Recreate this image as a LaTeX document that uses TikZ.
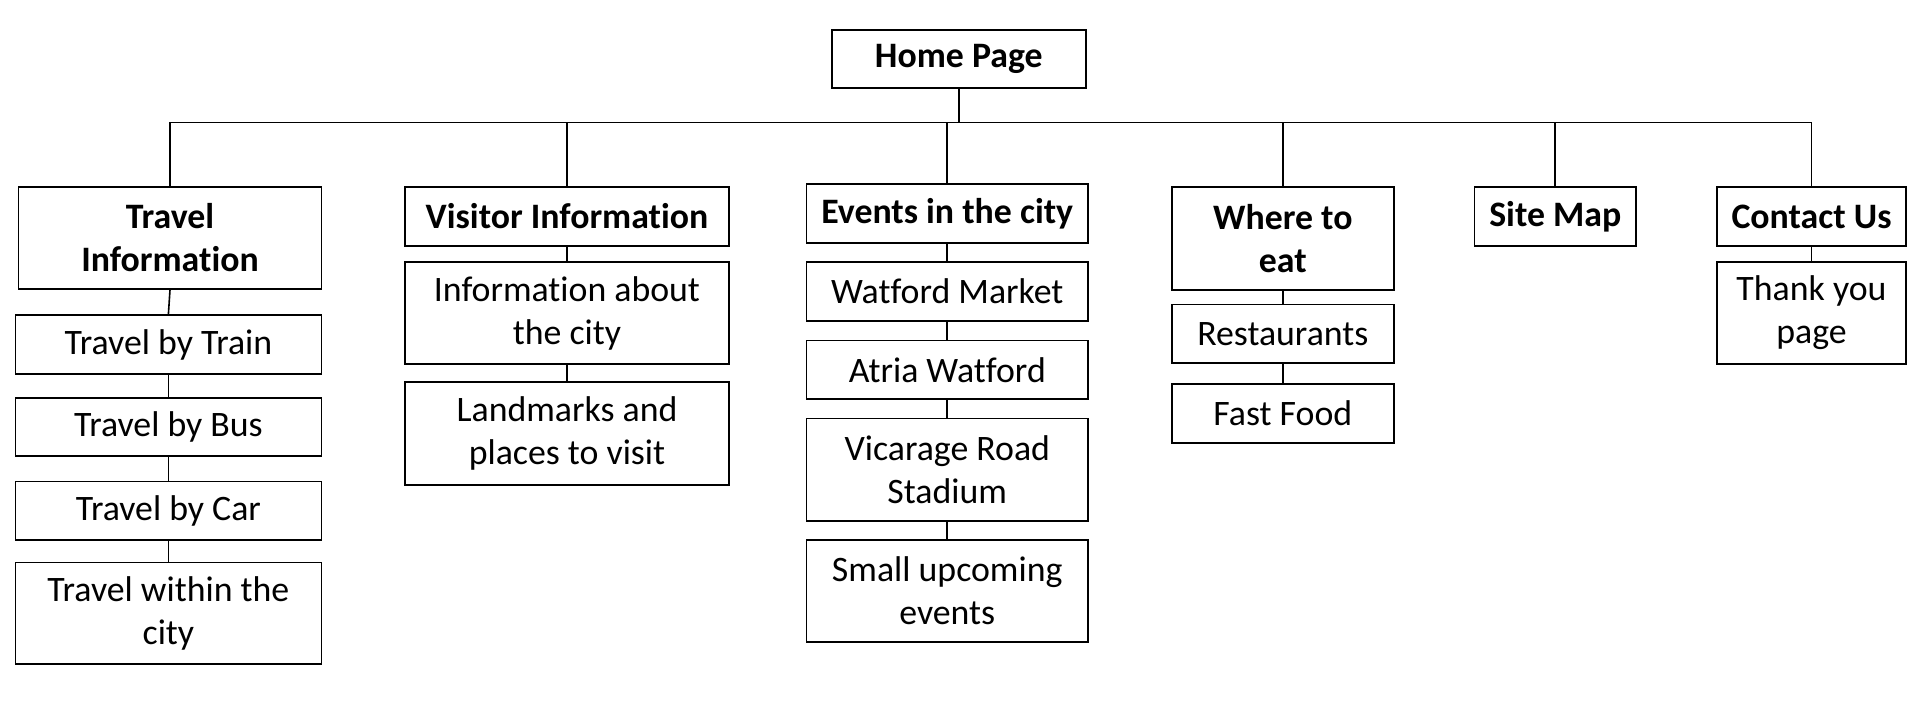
\documentclass[tikz,border=0pt]{standalone}
\usepackage{fontspec}
\setmainfont[Ligatures=NoCommon]{Carlito}
\begin{document}
\begin{tikzpicture}[x=1pt,y=-1pt,
  box/.style={draw=black,line width=1.8pt,fill=white,rectangle,align=center,inner sep=2pt,
    font=\fontsize{35.8}{43}\selectfont,text=black},
  head/.style={box,font=\fontsize{35.8}{43}\selectfont\bfseries},
  conn/.style={draw=black,line width=1.6pt}]
\fill[white] (0,0) rectangle (1917,705);
\useasboundingbox (0,0) rectangle (1917,705);
\coordinate (bus) at (0,122.5);
% top
\node[head,minimum width=254.4pt,minimum height=58.6pt] (home) at (958.8,59) {Home Page};
% column 1
\node[head,minimum width=303pt,minimum height=102pt] (ti) at (170,238) {Travel\\Information};
\node[box,minimum width=306pt,minimum height=59pt] (train) at (168.4,344.5) {Travel by Train};
\node[box,minimum width=306pt,minimum height=58pt] (busn) at (168.4,427) {Travel by Bus};
\node[box,minimum width=306pt,minimum height=58.5pt] (car) at (168.4,510.75) {Travel by Car};
\node[box,minimum width=306pt,minimum height=101.5pt] (within) at (168.4,613.3) {Travel within the\\city};
% column 2
\node[head,minimum width=324pt,minimum height=59pt] (vi) at (567,216.5) {Visitor Information};
\node[box,minimum width=324pt,minimum height=102pt] (about) at (567,313) {Information about\\the city};
\node[box,minimum width=324pt,minimum height=103pt] (land) at (567,433.5) {Landmarks and\\places to visit};
% column 3
\node[head,minimum width=281.5pt,minimum height=59pt] (ev) at (947.25,213.5) {Events in the city};
\node[box,minimum width=281.5pt,minimum height=59pt] (market) at (947.25,291.5) {Watford Market};
\node[box,minimum width=281.5pt,minimum height=58.5pt] (atria) at (947.25,369.75) {Atria Watford};
\node[box,minimum width=281.5pt,minimum height=102.5pt] (vic) at (947.25,469.75) {Vicarage Road\\Stadium};
\node[box,minimum width=281.5pt,minimum height=102pt] (small) at (947.25,591) {Small upcoming\\events};
% column 4
\node[head,minimum width=221.6pt,minimum height=103pt] (eat) at (1282.8,238.5) {Where to\\eat};
\node[box,minimum width=221.6pt,minimum height=58.5pt] (rest) at (1282.8,333.75) {Restaurants};
\node[box,minimum width=221.6pt,minimum height=59pt] (fast) at (1282.8,413.5) {Fast Food};
% column 5
\node[head,minimum width=161.5pt,minimum height=59pt] (sm) at (1555.25,216.5) {Site Map};
% column 6
\node[head,minimum width=189pt,minimum height=59pt] (cu) at (1811.5,216.5) {Contact Us};
\node[box,minimum width=189pt,minimum height=102pt] (ty) at (1811.5,313) {Thank you\\page};
% connectors
\draw[conn] (home.south) -- (home.south |- bus);
\draw[conn] (ti.north) -- (ti.north |- bus) -- (cu.north |- bus) -- (cu.north);
\draw[conn] (vi.north) -- (vi.north |- bus);
\draw[conn] (ev.north) -- (ev.north |- bus);
\draw[conn] (eat.north) -- (eat.north |- bus);
\draw[conn] (sm.north) -- (sm.north |- bus);
\draw[conn] (ti.south) -- (train.north);
\draw[conn] (train.south) -- (busn.north);
\draw[conn] (busn.south) -- (car.north);
\draw[conn] (car.south) -- (within.north);
\draw[conn] (vi.south) -- (about.north);
\draw[conn] (about.south) -- (land.north);
\draw[conn] (ev.south) -- (market.north);
\draw[conn] (market.south) -- (atria.north);
\draw[conn] (atria.south) -- (vic.north);
\draw[conn] (vic.south) -- (small.north);
\draw[conn] (eat.south) -- (rest.north);
\draw[conn] (rest.south) -- (fast.north);
\draw[conn] (cu.south) -- (ty.north);
\end{tikzpicture}
\end{document}
